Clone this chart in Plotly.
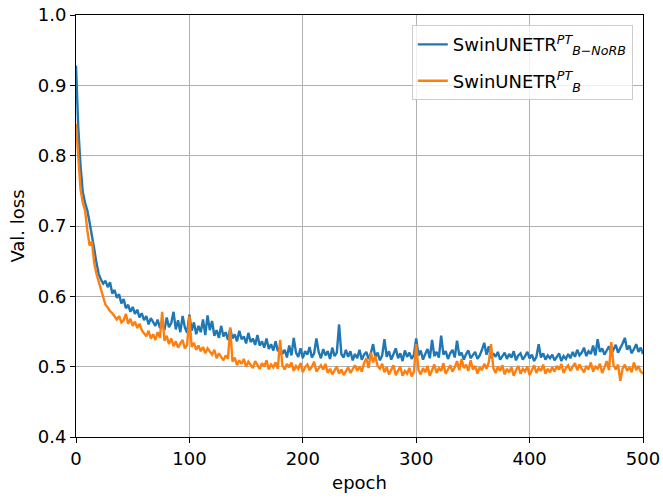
import plotly.graph_objects as go

epochs = list(range(0, 501, 2))

loss_norb = [
    0.928, 0.840, 0.785, 0.748, 0.733, 0.722, 0.705, 0.688, 0.668, 0.648, 0.632, 0.624, 0.618, 0.622, 0.613,
    0.620, 0.604, 0.609, 0.598, 0.603, 0.590, 0.596, 0.583, 0.588, 0.578, 0.585, 0.575, 0.581, 0.570, 0.576,
    0.566, 0.572, 0.560, 0.569, 0.563, 0.558, 0.567, 0.555, 0.561, 0.552, 0.570, 0.556, 0.562, 0.578, 0.553,
    0.566, 0.549, 0.572, 0.556, 0.548, 0.574, 0.551, 0.563, 0.546, 0.558, 0.549, 0.567, 0.545, 0.573, 0.552,
    0.565, 0.544, 0.552, 0.541, 0.558, 0.543, 0.549, 0.538, 0.554, 0.540, 0.546, 0.536, 0.551, 0.539, 0.543,
    0.533, 0.548, 0.535, 0.540, 0.531, 0.545, 0.530, 0.536, 0.527, 0.540, 0.525, 0.532, 0.523, 0.536, 0.522,
    0.528, 0.518, 0.524, 0.513, 0.530, 0.516, 0.541, 0.520, 0.514, 0.526, 0.512, 0.522, 0.517, 0.528, 0.513,
    0.519, 0.540, 0.521, 0.512, 0.525, 0.516, 0.522, 0.511, 0.527, 0.515, 0.520, 0.560, 0.518, 0.513, 0.524,
    0.514, 0.522, 0.509, 0.518, 0.512, 0.524, 0.510, 0.517, 0.521, 0.511, 0.519, 0.532, 0.513, 0.520, 0.509,
    0.516, 0.539, 0.514, 0.522, 0.510, 0.518, 0.526, 0.512, 0.519, 0.508, 0.523, 0.514, 0.520, 0.511, 0.517,
    0.540, 0.516, 0.523, 0.510, 0.518, 0.525, 0.512, 0.538, 0.515, 0.521, 0.513, 0.544, 0.517, 0.522, 0.511,
    0.519, 0.524, 0.513, 0.537, 0.516, 0.520, 0.510, 0.518, 0.523, 0.512, 0.517, 0.521, 0.511, 0.516, 0.524,
    0.534, 0.517, 0.529, 0.512, 0.519, 0.514, 0.521, 0.510, 0.516, 0.520, 0.511, 0.518, 0.513, 0.522, 0.509,
    0.516, 0.519, 0.510, 0.515, 0.521, 0.512, 0.517, 0.508, 0.514, 0.532, 0.513, 0.519, 0.510, 0.516, 0.512,
    0.517, 0.509, 0.514, 0.519, 0.508, 0.515, 0.511, 0.518, 0.512, 0.521, 0.514, 0.524, 0.516, 0.520, 0.527,
    0.515, 0.522, 0.518, 0.530, 0.516, 0.539, 0.521, 0.526, 0.517, 0.523, 0.529, 0.518, 0.524, 0.531, 0.520,
    0.526, 0.533, 0.541, 0.524, 0.530, 0.519, 0.525, 0.532, 0.521, 0.527, 0.518,
]

loss_b = [
    0.845, 0.790, 0.752, 0.733, 0.722, 0.694, 0.672, 0.678, 0.648, 0.632, 0.620, 0.608, 0.598, 0.588, 0.584,
    0.579, 0.576, 0.571, 0.567, 0.572, 0.563, 0.566, 0.575, 0.561, 0.568, 0.558, 0.564, 0.555, 0.561, 0.552,
    0.548, 0.543, 0.551, 0.540, 0.546, 0.538, 0.549, 0.541, 0.578, 0.537, 0.544, 0.532, 0.540, 0.529, 0.536,
    0.527, 0.533, 0.538, 0.526, 0.531, 0.572, 0.528, 0.534, 0.524, 0.530, 0.522, 0.528, 0.519, 0.526, 0.521,
    0.517, 0.524, 0.512, 0.519, 0.514, 0.509, 0.516, 0.511, 0.556, 0.507, 0.513, 0.502, 0.509, 0.504, 0.511,
    0.500, 0.507, 0.503, 0.498, 0.508, 0.502, 0.497, 0.505, 0.500, 0.509, 0.496, 0.503, 0.499, 0.506, 0.497,
    0.538, 0.502, 0.496, 0.504, 0.499, 0.506, 0.494, 0.501, 0.497, 0.505, 0.492, 0.499, 0.503, 0.495, 0.500,
    0.507, 0.493, 0.498, 0.502, 0.496, 0.504, 0.491, 0.497, 0.489, 0.495, 0.500, 0.490, 0.496, 0.488, 0.494,
    0.499, 0.491, 0.496, 0.502, 0.494, 0.500, 0.493, 0.505, 0.512, 0.498, 0.520, 0.506, 0.515, 0.501, 0.497,
    0.504, 0.492, 0.499, 0.489, 0.496, 0.502, 0.488, 0.495, 0.500, 0.487, 0.494, 0.490, 0.498, 0.486, 0.493,
    0.532, 0.495, 0.489, 0.498, 0.492, 0.501, 0.487, 0.496, 0.503, 0.491, 0.498, 0.494, 0.505, 0.490, 0.497,
    0.502, 0.493, 0.499, 0.508, 0.495, 0.511, 0.498, 0.503, 0.494, 0.509, 0.496, 0.501, 0.490, 0.499, 0.495,
    0.504, 0.497, 0.506, 0.532, 0.498, 0.491, 0.500, 0.494, 0.502, 0.489, 0.497, 0.492, 0.499, 0.487, 0.495,
    0.501, 0.490, 0.497, 0.493, 0.500, 0.488, 0.496, 0.502, 0.491, 0.498, 0.494, 0.503, 0.490, 0.497, 0.492,
    0.499, 0.493, 0.501, 0.496, 0.504, 0.491, 0.498, 0.502, 0.494, 0.500, 0.505, 0.495, 0.503, 0.497, 0.492,
    0.501, 0.496, 0.506, 0.493, 0.500, 0.497, 0.504, 0.491, 0.499, 0.508, 0.495, 0.535, 0.502, 0.496, 0.503,
    0.480, 0.497, 0.503, 0.494, 0.499, 0.492, 0.506, 0.495, 0.501, 0.493, 0.490,
]

x_ticks = [0, 100, 200, 300, 400, 500]
y_ticks = [0.4, 0.5, 0.6, 0.7, 0.8, 0.9, 1.0]

names = [
    "SwinUNETR<sup><i>PT</i></sup><sub><i>B\u2212NoRB</i></sub>",
    "SwinUNETR<sup><i>PT</i></sup><sub><i>B</i></sub>",
]
colors = ["#1f77b4", "#ff7f0e"]

fig = go.Figure()
for i, (vals, name, c) in enumerate(zip([loss_norb, loss_b], names, colors)):
    fig.add_trace(go.Scatter(x=epochs, y=vals, mode="lines", name=name,
                             legendgroup=f"g{i}",
                             line=dict(color=c, width=2.4)))

font = dict(family="DejaVu Sans", size=18, color="black")
axis_common = dict(showline=True, linecolor="black", linewidth=1, mirror=True,
                   showgrid=True, gridcolor="#b0b0b0", gridwidth=1,
                   ticks="outside", ticklen=5, tickcolor="black", tickwidth=1,
                   zeroline=False, tickfont=font, automargin=False,
                   ticklabeloverflow="allow")

fig.update_layout(
    width=663, height=498,
    margin=dict(l=76, r=20, t=15, b=61),
    paper_bgcolor="white", plot_bgcolor="white",
    font=font,
    showlegend=True,
    legend=dict(x=0.982, y=0.976, xanchor="right", yanchor="top",
                bgcolor="rgba(255,255,255,0.8)", bordercolor="#cccccc", borderwidth=1,
                font=dict(family="DejaVu Sans", size=18, color="black"),
                tracegroupgap=10),
)
fig.update_xaxes(range=[0, 500], tickvals=x_ticks, ticktext=[str(t) for t in x_ticks],
                 title=dict(text="epoch", font=font, standoff=8), **axis_common)
fig.update_yaxes(range=[0.4, 1.0], tickvals=y_ticks, ticktext=[f"{t:.1f}" for t in y_ticks],
                 title=dict(text="Val. loss", font=font, standoff=8), **axis_common)

# remove the browser's default 8px body margin so the figure sits at the window corner
fig.write_html("out.html", config={"displayModeBar": False},
               post_script="document.body.style.margin='0';")
